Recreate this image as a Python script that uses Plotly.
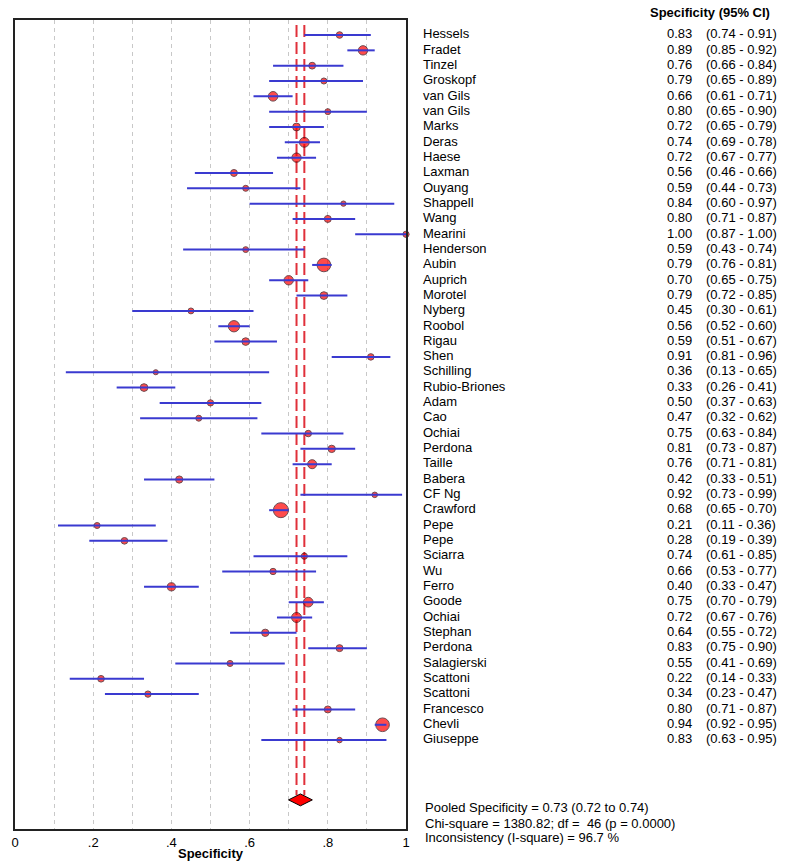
import plotly.graph_objects as go

# study names, specificity estimates and 95% CI limits
studies = ["Hessels", "Fradet", "Tinzel", "Groskopf", "van Gils", "van Gils", "Marks", "Deras",
           "Haese", "Laxman", "Ouyang", "Shappell", "Wang", "Mearini", "Henderson", "Aubin",
           "Auprich", "Morotel", "Nyberg", "Roobol", "Rigau", "Shen", "Schilling", "Rubio-Briones",
           "Adam", "Cao", "Ochiai", "Perdona", "Taille", "Babera", "CF Ng", "Crawford", "Pepe",
           "Pepe", "Sciarra", "Wu", "Ferro", "Goode", "Ochiai", "Stephan", "Perdona", "Salagierski",
           "Scattoni", "Scattoni", "Francesco", "Chevli", "Giuseppe"]
spec = [0.83, 0.89, 0.76, 0.79, 0.66, 0.80, 0.72, 0.74, 0.72, 0.56, 0.59, 0.84, 0.80, 1.00,
        0.59, 0.79, 0.70, 0.79, 0.45, 0.56, 0.59, 0.91, 0.36, 0.33, 0.50, 0.47, 0.75, 0.81,
        0.76, 0.42, 0.92, 0.68, 0.21, 0.28, 0.74, 0.66, 0.40, 0.75, 0.72, 0.64, 0.83, 0.55,
        0.22, 0.34, 0.80, 0.94, 0.83]
ci_lo = [0.74, 0.85, 0.66, 0.65, 0.61, 0.65, 0.65, 0.69, 0.67, 0.46, 0.44, 0.60, 0.71, 0.87,
         0.43, 0.76, 0.65, 0.72, 0.30, 0.52, 0.51, 0.81, 0.13, 0.26, 0.37, 0.32, 0.63, 0.73,
         0.71, 0.33, 0.73, 0.65, 0.11, 0.19, 0.61, 0.53, 0.33, 0.70, 0.67, 0.55, 0.75, 0.41,
         0.14, 0.23, 0.71, 0.92, 0.63]
ci_hi = [0.91, 0.92, 0.84, 0.89, 0.71, 0.90, 0.79, 0.78, 0.77, 0.66, 0.73, 0.97, 0.87, 1.00,
         0.74, 0.81, 0.75, 0.85, 0.61, 0.60, 0.67, 0.96, 0.65, 0.41, 0.63, 0.62, 0.84, 0.87,
         0.81, 0.51, 0.99, 0.70, 0.36, 0.39, 0.85, 0.77, 0.47, 0.79, 0.76, 0.72, 0.90, 0.69,
         0.33, 0.47, 0.87, 0.95, 0.95]

pooled, pooled_lo, pooled_hi = 0.73, 0.72, 0.74
chi2, df_, p_val, i2 = 1380.82, 46, 0.0000, 96.7

tick_vals = [0, 0.1, 0.2, 0.3, 0.4, 0.5, 0.6, 0.7, 0.8, 0.9, 1.0]
tick_text = ["0", "", ".2", "", ".4", "", ".6", "", ".8", "", "1"]

FONT = "Liberation Sans, Arial, sans-serif"
rows = list(range(len(studies)))
pooled_row = 49.9

# marker size from the precision of each estimate
sizes = []
for p, lo, hi in zip(spec, ci_lo, ci_hi):
    mid = (lo + hi) / 2
    n_eff = 15.37 * mid * (1 - mid) / (hi - lo) ** 2
    sizes.append(min(15, 4 + 0.3 * n_eff ** 0.5))

fig = go.Figure()

# pooled CI dashed lines
for v in (pooled_lo, pooled_hi):
    fig.add_trace(go.Scatter(x=[v, v], y=[-0.65, pooled_row - 0.3], mode="lines",
                             line=dict(color="#e0303a", width=2, dash="12px,5px"),
                             hoverinfo="skip", showlegend=False))

fig.add_trace(go.Scatter(x=spec, y=rows, mode="markers",
                         marker=dict(size=sizes, color="#ff0000", line=dict(color="#300008", width=1)),
                         cliponaxis=False, showlegend=False))

ci_x, ci_y = [], []
for r, lo, hi in zip(rows, ci_lo, ci_hi):
    ci_x += [lo, hi, None]
    ci_y += [r, r, None]
fig.add_trace(go.Scatter(x=ci_x, y=ci_y, mode="lines", line=dict(color="#3a3ad0", width=2),
                         cliponaxis=False, showlegend=False))

fig.add_trace(go.Scatter(x=[pooled], y=[pooled_row], mode="markers",
                         marker=dict(symbol="diamond-wide", size=17, color="#ff0000",
                                     line=dict(color="black", width=1)),
                         showlegend=False))

# right-hand text columns on a hidden pixel-scaled axis
txt_font = dict(family=FONT, size=13, color="black")
n = len(studies)
fig.add_trace(go.Scatter(x=[17] * n, y=rows, mode="text", text=studies, xaxis="x2",
                         textposition="middle right", textfont=txt_font,
                         cliponaxis=False, showlegend=False))
fig.add_trace(go.Scatter(x=[261] * n, y=rows, mode="text", xaxis="x2",
                         text=[f"{v:.2f}" for v in spec],
                         textposition="middle right", textfont=txt_font,
                         cliponaxis=False, showlegend=False))
fig.add_trace(go.Scatter(x=[300] * n, y=rows, mode="text", xaxis="x2",
                         text=[f"({lo:.2f} - {hi:.2f})" for lo, hi in zip(ci_lo, ci_hi)],
                         textposition="middle right", textfont=txt_font,
                         cliponaxis=False, showlegend=False))

fig.add_annotation(x=304, y=1.009, xref="x2", yref="paper", showarrow=False,
                   text="<b>Specificity (95% CI)</b>", font=txt_font,
                   xanchor="center", yanchor="middle")
summary = [
    f"Pooled Specificity = {pooled:.2f} ({pooled_lo:.2f} to {pooled_hi:.2f})",
    f"Chi-square = {chi2:.2f}; df =  {df_} (p = {p_val:.4f})",
    f"Inconsistency (I-square) = {i2:.1f} %",
]
for line, yy in zip(summary, [0.026, 0.0074, -0.011]):
    fig.add_annotation(x=17, y=yy, xref="x2", yref="paper", showarrow=False,
                       text=line, font=txt_font, xanchor="left", yanchor="middle")

fig.update_layout(
    width=787, height=866,
    margin=dict(l=15, r=0, t=20, b=37),
    plot_bgcolor="white", paper_bgcolor="white",
    font=dict(family=FONT, size=13, color="black"),
    xaxis=dict(domain=[0, 391 / 772], range=[0, 1], tickvals=tick_vals, ticktext=tick_text,
               ticks="", automargin=False,
               showgrid=True, gridcolor="#c8c8c8", griddash="4px,4px", gridwidth=1,
               showline=True, mirror=True, linecolor="#222", linewidth=2, zeroline=False,
               title=dict(text="<b>Specificity</b>", standoff=0, font=dict(size=13)),
               tickfont=dict(size=13)),
    xaxis2=dict(domain=[391 / 772, 1], range=[0, 381], anchor="y", visible=False),
    yaxis=dict(range=[51.8, -0.98], showticklabels=False, ticks="", showgrid=False,
               automargin=False,
               showline=True, mirror=True, linecolor="#222", linewidth=2, zeroline=False),
)

# drop the default page margin so the figure fills the window
fig.write_html("out.html", config={"displayModeBar": False},
               post_script="document.body.style.margin='0';")
